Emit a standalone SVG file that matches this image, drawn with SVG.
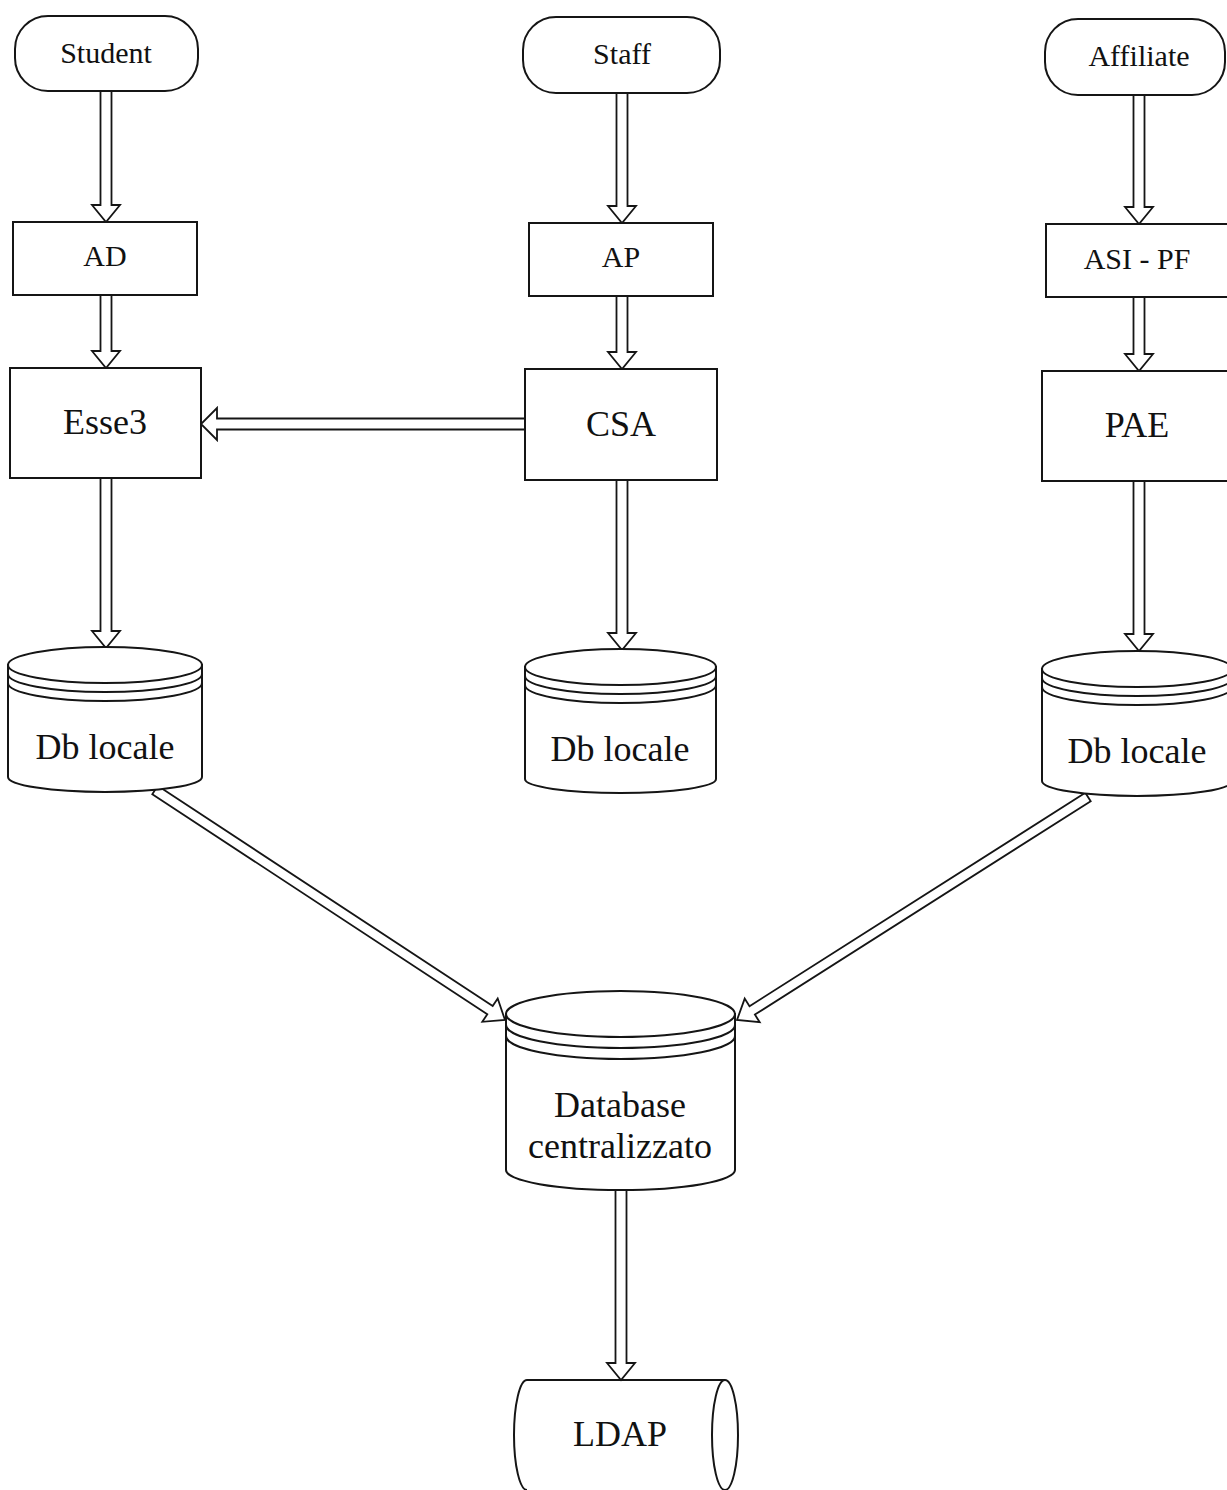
<svg xmlns="http://www.w3.org/2000/svg" width="1227" height="1490" viewBox="0 0 1227 1490">
<style>
.s{fill:#fff;stroke:#151515;stroke-width:2}
.n{fill:none;stroke:#151515;stroke-width:2}
.a{fill:#fff;stroke:#151515;stroke-width:1.8;stroke-linejoin:miter}
.t{font-family:"Liberation Serif","Times New Roman",serif;fill:#111;text-anchor:middle}
.t1{font-size:30px}
.t2{font-size:36px}
</style>
<rect width="1227" height="1490" fill="#fff"/>
<g id="connectors">
<polygon class="a" points="100.5,91 111.5,91 111.5,205 120,205 106,222 92,205 100.5,205"/>
<polygon class="a" points="100.5,295 111.5,295 111.5,351 120,351 106,368 92,351 100.5,351"/>
<polygon class="a" points="100.5,478 111.5,478 111.5,631 120,631 106,648 92,631 100.5,631"/>
<polygon class="a" points="616.5,93 627.5,93 627.5,206 636,206 622,223 608,206 616.5,206"/>
<polygon class="a" points="616.5,296 627.5,296 627.5,352 636,352 622,369 608,352 616.5,352"/>
<polygon class="a" points="616.5,480 627.5,480 627.5,633 636,633 622,650 608,633 616.5,633"/>
<polygon class="a" points="1133.5,95 1144.5,95 1144.5,207 1153,207 1139,224 1125,207 1133.5,207"/>
<polygon class="a" points="1133.5,297 1144.5,297 1144.5,354 1153,354 1139,371 1125,354 1133.5,354"/>
<polygon class="a" points="1133.5,481 1144.5,481 1144.5,634 1153,634 1139,651 1125,634 1133.5,634"/>
<polygon class="a" points="615.5,1190 626.5,1190 626.5,1363 635,1363 621,1380 607,1363 615.5,1363"/>
<polygon class="a" points="525,418.5 217,418.5 217,408 201,424 217,440 217,429.5 525,429.5"/>
<polygon class="a" points="157.7,785.8 492.7,1005.9 497.7,998.4 505,1020 482.3,1021.8 487.3,1014.3 152.3,794.2"/>
<polygon class="a" points="1085.3,792.8 749.5,1006.2 744.7,998.6 737,1020 759.7,1022.2 754.9,1014.6 1090.7,801.2"/>
</g>
<g id="student"><rect class="s" x="15" y="16" width="183" height="75" rx="33" ry="33"/><text class="t t1" x="106" y="63">Student</text></g>
<g id="staff"><rect class="s" x="523" y="17" width="197" height="76" rx="33" ry="33"/><text class="t t1" x="622" y="64">Staff</text></g>
<g id="affiliate"><rect class="s" x="1045" y="19" width="180" height="76" rx="33" ry="33"/><text class="t t1" x="1139" y="66">Affiliate</text></g>
<g id="ad"><rect class="s" x="13" y="222" width="184" height="73"/><text class="t t1" x="105" y="266">AD</text></g>
<g id="ap"><rect class="s" x="529" y="223" width="184" height="73"/><text class="t t1" x="621" y="267">AP</text></g>
<g id="asipf"><rect class="s" x="1046" y="224" width="184" height="73"/><text class="t t1" x="1137" y="269">ASI - PF</text></g>
<g id="esse3"><rect class="s" x="10" y="368" width="191" height="110"/><text class="t t2" x="105" y="434">Esse3</text></g>
<g id="csa"><rect class="s" x="525" y="369" width="192" height="111"/><text class="t t2" x="621" y="436">CSA</text></g>
<g id="pae"><rect class="s" x="1042" y="371" width="190" height="110"/><text class="t t2" x="1137" y="437">PAE</text></g>
<g id="db-left">
<path class="s" d="M8,665 L8,777 A97,15 0 0 0 202,777 L202,665 Z"/>
<ellipse class="s" cx="105" cy="665" rx="97" ry="18"/>
<path class="n" d="M8,674 A97,18 0 0 0 202,674 M8,683 A97,18 0 0 0 202,683"/>
<text class="t t2" x="105" y="759">Db locale</text>
</g>
<g id="db-middle">
<path class="s" d="M525,667 L525,779 A95.5,14 0 0 0 716,779 L716,667 Z"/>
<ellipse class="s" cx="620.5" cy="667" rx="95.5" ry="18"/>
<path class="n" d="M525,676 A95.5,18 0 0 0 716,676 M525,685 A95.5,18 0 0 0 716,685"/>
<text class="t t2" x="620" y="761">Db locale</text>
</g>
<g id="db-right">
<path class="s" d="M1042,669 L1042,781 A95,15 0 0 0 1232,781 L1232,669 Z"/>
<ellipse class="s" cx="1137" cy="669" rx="95" ry="18"/>
<path class="n" d="M1042,678 A95,18 0 0 0 1232,678 M1042,687 A95,18 0 0 0 1232,687"/>
<text class="t t2" x="1137" y="763">Db locale</text>
</g>
<g id="db-central">
<path class="s" d="M506,1014 L506,1170 A114.5,20 0 0 0 735,1170 L735,1014 Z"/>
<ellipse class="s" cx="620.5" cy="1014" rx="114.5" ry="23"/>
<path class="n" d="M506,1025 A114.5,23 0 0 0 735,1025 M506,1036 A114.5,23 0 0 0 735,1036"/>
<text class="t t2" x="620" y="1117">Database</text>
<text class="t t2" x="620" y="1158">centralizzato</text>
</g>
<g id="ldap">
<path class="n" d="M527,1380 L725,1380 A13,55 0 0 1 725,1490 M527,1490 A13,55 0 0 1 527,1380"/>
<path class="n" d="M725,1380 A13,55 0 0 0 725,1490"/>
<text class="t t2" x="620" y="1446">LDAP</text>
</g>
</svg>
